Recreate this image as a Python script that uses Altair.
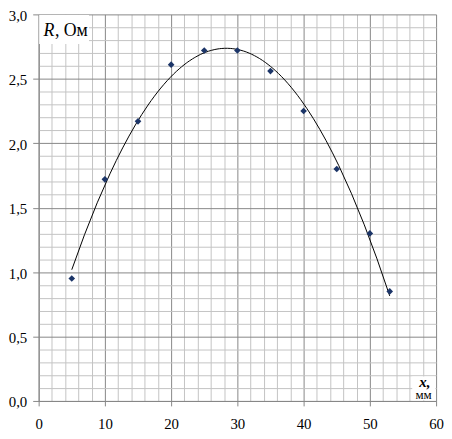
import altair as alt
import pandas as pd

# data
x_mm = [5, 10, 15, 20, 25, 30, 35, 40, 45, 50, 53]
r_ohm = [0.95, 1.72, 2.17, 2.61, 2.72, 2.72, 2.56, 2.25, 1.80, 1.30, 0.85]

x_major = [0, 10, 20, 30, 40, 50, 60]
y_major = [0.0, 0.5, 1.0, 1.5, 2.0, 2.5, 3.0]
x_minor = [v for v in range(0, 61, 2) if v % 10 != 0]
y_minor = [round(i / 10, 1) for i in range(0, 31) if i % 5 != 0]

df = pd.DataFrame({"x": x_mm, "R": r_ohm})

FONT = "Liberation Serif"
MAJ = "#878787"
MIN = "#c3c3c3"

xs = alt.Scale(domain=[0, 60], nice=False, zero=False)
ys = alt.Scale(domain=[0, 3], nice=False, zero=False)

# minor grid layer + white label backgrounds
boxes = pd.DataFrame({
    "x1": [0.08, 56.4], "x2": [7.6, 59.9],
    "y1": [2.77, 0.005], "y2": [2.995, 0.19],
})
minor = alt.Chart(boxes).mark_rect(color="white").encode(
    x=alt.X("x1:Q", scale=xs, axis=alt.Axis(values=x_minor, grid=True, gridColor=MIN, gridWidth=1,
                                            labels=False, ticks=False, domain=False, title=None, orient="bottom")),
    x2="x2:Q",
    y=alt.Y("y1:Q", scale=ys, axis=alt.Axis(values=y_minor, grid=True, gridColor=MIN, gridWidth=1,
                                            labels=False, ticks=False, domain=False, title=None, orient="left")),
    y2="y2:Q",
)

label_expr = "replace(format(datum.value, '.1f'), '.', ',')"
xlabel_expr = "format(datum.value, 'd')"

points = alt.Chart(df).mark_point(shape="diamond", filled=True, size=45, color="#1c3568", opacity=1).encode(
    x=alt.X("x:Q", scale=xs, axis=alt.Axis(values=x_major, grid=True, gridColor=MAJ, gridWidth=1,
                                           domainColor=MAJ, tickColor=MAJ, tickSize=5, labelFont=FONT,
                                           labelFontSize=15, labelColor="black", labelPadding=11,
                                           labelExpr=xlabel_expr, title=None, orient="bottom",
                                           labelFlush=False)),
    y=alt.Y("R:Q", scale=ys, axis=alt.Axis(values=y_major, grid=True, gridColor=MAJ, gridWidth=1,
                                           domainColor=MAJ, tickColor=MAJ, tickSize=6, labelFont=FONT,
                                           labelFontSize=15, labelColor="black", labelPadding=6,
                                           labelOffset=1,
                                           labelExpr=label_expr, title=None, orient="left",
                                           labelFlush=False)),
)

trend = alt.Chart(df).transform_regression(
    "x", "R", method="poly", order=2, extent=[5, 53]
).mark_line(color="black", strokeWidth=1).encode(
    x=alt.X("x:Q", scale=xs, axis=None),
    y=alt.Y("R:Q", scale=ys, axis=None),
)

texts = pd.DataFrame({
    "x": [0.75, 2.45, 58.3, 58.1],
    "y": [2.87, 2.87, 0.15, 0.045],
    "t": ["R", ", Ом", "x,", "мм"],
    "style": ["italic", "normal", "italic", "normal"],
    "weight": ["normal", "normal", "bold", "normal"],
    "size": [18, 18, 15, 13],
    "align": ["left", "left", "center", "center"],
})

def txt(i):
    row = texts.iloc[[i]]
    return alt.Chart(row).mark_text(
        font=FONT, fontSize=int(row["size"].iloc[0]), fontStyle=row["style"].iloc[0],
        fontWeight=row["weight"].iloc[0], align=row["align"].iloc[0], baseline="middle", color="black"
    ).encode(x=alt.X("x:Q", scale=xs, axis=None), y=alt.Y("y:Q", scale=ys, axis=None), text="t:N")

labels = alt.layer(*[txt(i) for i in range(len(texts))])

chart = alt.layer(minor, trend, points, labels).resolve_axis(
    x="independent", y="independent"
).properties(
    width=402, height=391,
    autosize=alt.AutoSizeParams(type="none"),
    padding={"left": 31, "top": 4, "right": 8, "bottom": 33},
).configure_view(stroke=None)

chart.save("out.html", embed_options={"renderer": "svg", "actions": False})
